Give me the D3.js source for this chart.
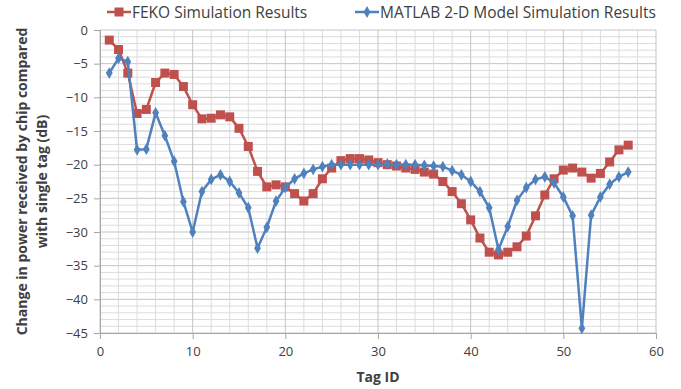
<!DOCTYPE html>
<html>
<head>
<meta charset="utf-8">
<script src="https://cdn.jsdelivr.net/npm/d3@7"></script>
<style>
  body { margin: 0; background: #fff; }
  svg { font-family: "Open Sans", "DejaVu Sans", sans-serif; }
</style>
</head>
<body>
<svg id="chart" width="681" height="389"></svg>
<script>
// tag ids 1..57
const tagIds = d3.range(1, 58);

const fekoValues = [
  -1.5, -2.9, -6.4, -12.4, -11.8, -7.8, -6.4, -6.6, -8.4, -11.1,
  -13.2, -13.1, -12.6, -12.9, -14.6, -17.3, -21.0, -23.3, -23.0, -23.3,
  -24.3, -25.4, -24.3, -22.1, -20.5, -19.4, -19.1, -19.1, -19.3, -19.7,
  -20.0, -20.2, -20.5, -20.7, -21.1, -21.4, -22.5, -24.0, -25.8, -28.2,
  -30.9, -33.0, -33.4, -33.0, -32.2, -30.6, -27.6, -24.5, -22.1, -20.8,
  -20.5, -21.1, -22.0, -21.3, -19.6, -17.8, -17.1
];

const matlabValues = [
  -6.4, -4.2, -4.7, -17.8, -17.7, -12.3, -15.7, -19.5, -25.5, -30.0,
  -24.0, -22.2, -21.5, -22.5, -24.2, -26.4, -32.4, -29.3, -25.4, -23.4,
  -22.1, -21.3, -20.7, -20.3, -20.0, -20.0, -20.0, -20.0, -20.0, -20.0,
  -19.9, -20.0, -20.0, -20.0, -20.1, -20.2, -20.3, -20.9, -21.5, -22.5,
  -24.0, -26.4, -32.6, -29.2, -25.3, -23.4, -22.2, -21.8, -22.7, -24.8,
  -27.6, -44.3, -27.5, -24.8, -22.9, -21.8, -21.1
];

const xTicks = [0, 10, 20, 30, 40, 50, 60];
const yTicks = [0, -5, -10, -15, -20, -25, -30, -35, -40, -45];

const seriesNames = ["FEKO Simulation Results", "MATLAB 2-D Model Simulation Results"];
const red = "#C0504D", blue = "#4F81BD";

const margin = {top: 30, right: 25, bottom: 56, left: 100};
const width = 681 - margin.left - margin.right;
const height = 389 - margin.top - margin.bottom;

const svg = d3.select("#chart");
const chart = svg.append("g")
  .attr("transform", `translate(${margin.left},${margin.top})`);

const x = d3.scaleLinear().domain([0, 60]).range([0, width]);
const y = d3.scaleLinear().domain([-45, 0]).range([height, 0]);

// minor grid
chart.append("g").selectAll("line")
  .data(d3.range(-45, 1, 1))
  .enter().append("line")
    .attr("x1", 0).attr("x2", width)
    .attr("y1", d => y(d)).attr("y2", d => y(d))
    .attr("stroke", d => d % 5 === 0 ? "#c4c4c4" : "#dcdcdc")
    .attr("stroke-width", 1);

chart.append("g").selectAll("line")
  .data(d3.range(0, 61, 2))
  .enter().append("line")
    .attr("x1", d => x(d)).attr("x2", d => x(d))
    .attr("y1", 0).attr("y2", height)
    .attr("stroke", d => d % 10 === 0 ? "#c4c4c4" : "#dcdcdc")
    .attr("stroke-width", 1);

// axes
const xAxis = d3.axisBottom(x).tickValues(xTicks).tickSize(6).tickPadding(8);
const yAxis = d3.axisLeft(y).tickValues(yTicks).tickSize(6).tickPadding(6);

const gx = chart.append("g")
  .attr("transform", `translate(0,${height})`)
  .call(xAxis);
const gy = chart.append("g").call(yAxis);

[gx, gy].forEach(g => {
  g.select(".domain").attr("stroke", "#a6a6a6");
  g.selectAll(".tick line").attr("stroke", "#a6a6a6");
  g.selectAll(".tick text")
    .attr("fill", "#404040")
    .style("font-size", "13px")
    .style("font-family", "'Open Sans', sans-serif");
});

// lines
const line = d3.line()
  .x((d, i) => x(tagIds[i]))
  .y(d => y(d));

chart.append("path")
  .datum(fekoValues)
  .attr("fill", "none")
  .attr("stroke", red)
  .attr("stroke-width", 2.5)
  .attr("d", line);

chart.append("g").selectAll("rect")
  .data(fekoValues)
  .enter().append("rect")
    .attr("x", (d, i) => x(tagIds[i]) - 4.5)
    .attr("y", d => y(d) - 4.5)
    .attr("width", 9).attr("height", 9)
    .attr("fill", red);

chart.append("path")
  .datum(matlabValues)
  .attr("fill", "none")
  .attr("stroke", blue)
  .attr("stroke-width", 2.5)
  .attr("d", line);

const diamond = d3.symbol().type(d3.symbolDiamond).size(40);
chart.append("g").selectAll("path")
  .data(matlabValues)
  .enter().append("path")
    .attr("transform", (d, i) => `translate(${x(tagIds[i])},${y(d)})`)
    .attr("d", diamond)
    .attr("fill", blue);

// legend
const legend = svg.append("g");
const legendItems = [
  {name: seriesNames[0], color: red, x0: 107, marker: "square"},
  {name: seriesNames[1], color: blue, x0: 355, marker: "diamond"}
];
legendItems.forEach(item => {
  const g = legend.append("g").attr("transform", `translate(${item.x0},12)`);
  g.append("line")
    .attr("x1", 0).attr("x2", 24)
    .attr("stroke", item.color).attr("stroke-width", 2.5);
  if (item.marker === "square") {
    g.append("rect").attr("x", 7.5).attr("y", -4.5).attr("width", 9).attr("height", 9).attr("fill", item.color);
  } else {
    g.append("path").attr("transform", "translate(12,0)").attr("d", diamond).attr("fill", item.color);
  }
  g.append("text")
    .attr("x", 25).attr("y", 5.5)
    .attr("fill", "#404040")
    .style("font-size", "15.5px")
    .text(item.name);
});

// axis titles
svg.append("text")
  .attr("x", margin.left + x(30))
  .attr("y", 382)
  .attr("text-anchor", "middle")
  .attr("fill", "#404040")
  .style("font-size", "14px")
  .style("font-weight", "bold")
  .text("Tag ID");

const yTitle = svg.append("text")
  .attr("transform", `translate(0,${margin.top + height / 2}) rotate(-90)`)
  .attr("text-anchor", "middle")
  .attr("fill", "#404040")
  .style("font-size", "14px")
  .style("font-weight", "bold");
yTitle.append("tspan").attr("x", 0).attr("y", 27).text("Change in power received by chip compared");
yTitle.append("tspan").attr("x", 0).attr("y", 47).text("with single tag (dB)");
</script>
</body>
</html>
